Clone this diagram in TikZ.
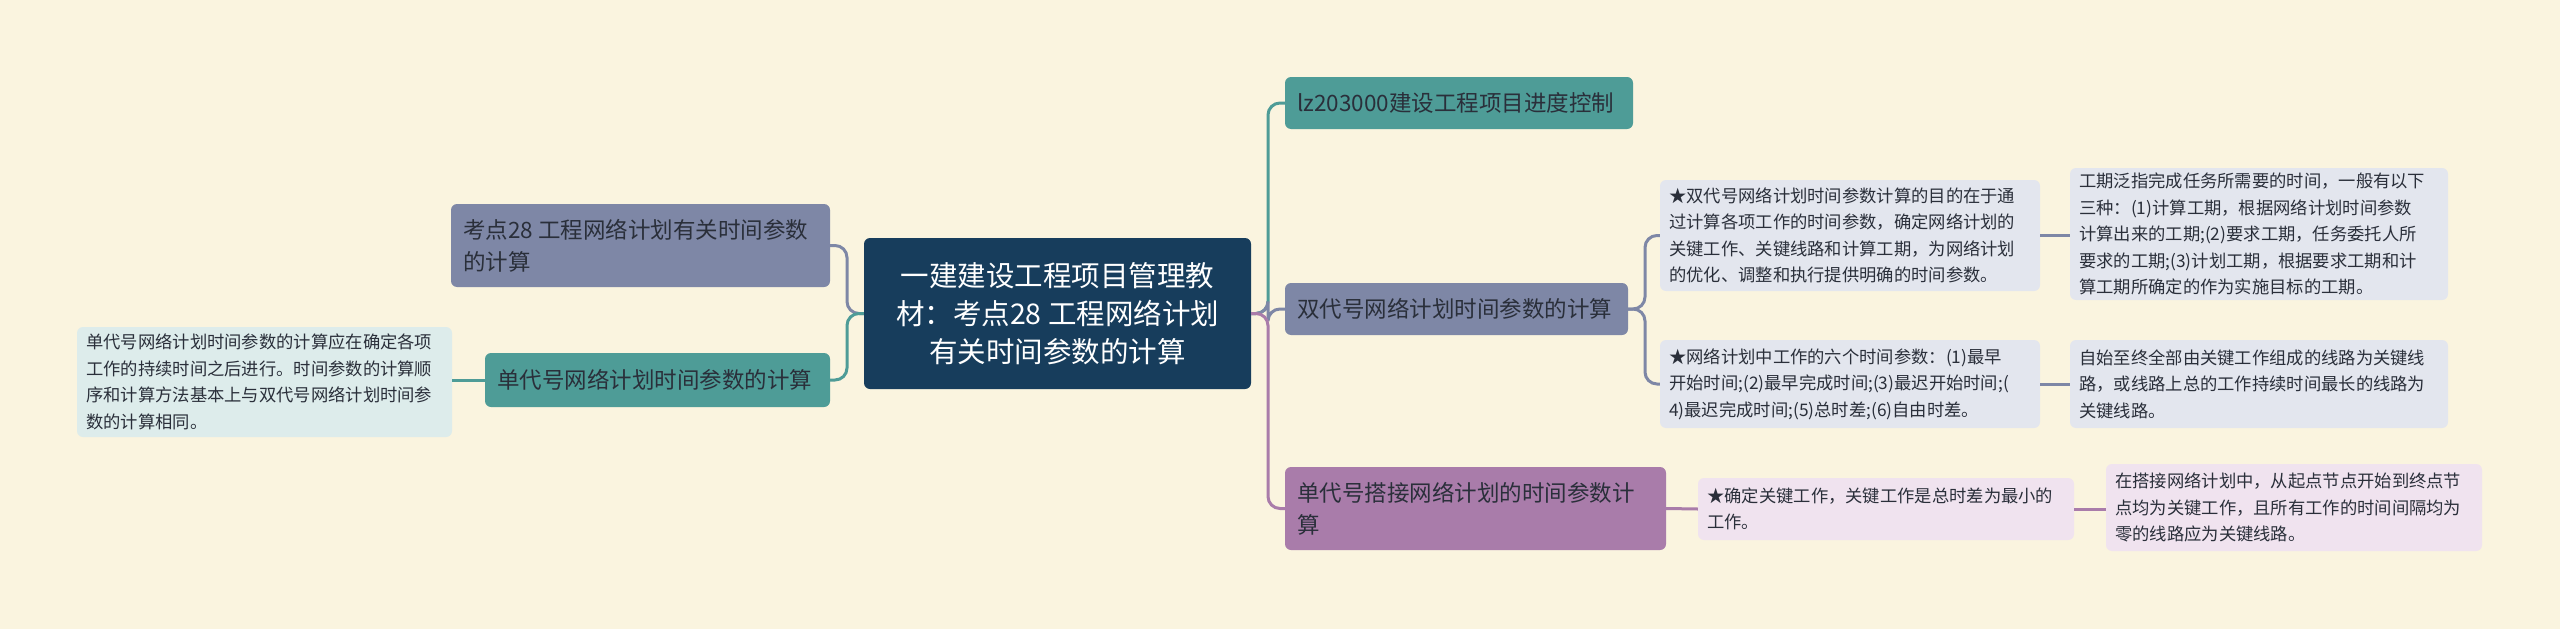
\documentclass[tikz,border=0pt]{standalone}
\usepackage{fontspec}
\setmainfont{Noto Sans CJK SC}
\begin{document}
\begin{tikzpicture}[x=1pt,y=-1pt,
  lk/.style={line width=3pt,rounded corners=12pt}]
\definecolor{bg}{HTML}{FAF4DF}
\definecolor{navy}{HTML}{173D5C}
\definecolor{teal}{HTML}{4E9C97}
\definecolor{gb}{HTML}{7E87A6}
\definecolor{pur}{HTML}{A97CAA}
\definecolor{lg}{HTML}{E3E6EE}
\definecolor{lp}{HTML}{F0E3EF}
\definecolor{lt}{HTML}{DDECEB}
\definecolor{tx}{HTML}{2A2F3A}
\fill[bg] (0,0) rectangle (2560,629);
\useasboundingbox (0,0) rectangle (2560,629);
% main
\fill[navy,rounded corners=6pt] (864,238) rectangle (1251,389);
\node[text=white,align=center,font=\fontsize{28.5}{38}\selectfont,minimum width=387,minimum height=151,inner sep=0] (c) at (1057.5,313.5) {一建建设工程项目管理教\\材：考点28 工程网络计划\\有关时间参数的计算};
\newcommand{\nd}[7]{% name x1 y1 x2 y2 color text
  \fill[#6,rounded corners=6pt] (#2,#3) rectangle (#4,#5);
  \node[inner sep=0,minimum width=#4-#2,minimum height=#5-#3] (#1) at ({(#2+#4)/2},{(#3+#5)/2}) {};
  \node[anchor=west,align=left,text=tx,font=\fontsize{22.5}{32}\selectfont,inner sep=0] at (#2+12,{(#3+#5)/2}) {#7};}
\nd{r1}{1285}{77}{1633}{129}{teal}{lz203000建设工程项目进度控制}
\nd{r2}{1285}{283}{1628}{335}{gb}{双代号网络计划时间参数的计算}
\nd{r3}{1285}{467}{1666}{550}{pur}{单代号搭接网络计划的时间参数计\\算}
\nd{l1}{451}{204}{830}{287}{gb}{考点28 工程网络计划有关时间参数\\的计算}
\nd{l2}{485}{353}{830}{407}{teal}{单代号网络计划时间参数的计算}
\newcommand{\lf}[7]{%
  \fill[#6,rounded corners=6pt] (#2,#3) rectangle (#4,#5);
  \node[inner sep=0,minimum width=#4-#2,minimum height=#5-#3] (#1) at ({(#2+#4)/2},{(#3+#5)/2}) {};
  \node[anchor=west,align=left,text=tx,font=\fontsize{17.3}{26.5}\selectfont,inner sep=0] at (#2+9,{(#3+#5)/2}) {#7};}
\lf{a1}{1660}{180}{2040}{291}{lg}{★双代号网络计划时间参数计算的目的在于通\\过计算各项工作的时间参数，确定网络计划的\\关键工作、关键线路和计算工期，为网络计划\\的优化、调整和执行提供明确的时间参数。}
\lf{b1}{2070}{168}{2448}{300}{lg}{工期泛指完成任务所需要的时间，一般有以下\\三种：(1)计算工期，根据网络计划时间参数\\计算出来的工期;(2)要求工期，任务委托人所\\要求的工期;(3)计划工期，根据要求工期和计\\算工期所确定的作为实施目标的工期。}
\lf{a2}{1660}{340}{2040}{428}{lg}{★网络计划中工作的六个时间参数：(1)最早\\开始时间;(2)最早完成时间;(3)最迟开始时间;(\\4)最迟完成时间;(5)总时差;(6)自由时差。}
\lf{b2}{2070}{340}{2448}{428}{lg}{自始至终全部由关键工作组成的线路为关键线\\路，或线路上总的工作持续时间最长的线路为\\关键线路。}
\lf{a3}{1698}{478}{2074}{540}{lp}{★确定关键工作，关键工作是总时差为最小的\\工作。}
\lf{b3}{2106}{464}{2482}{551}{lp}{在搭接网络计划中，从起点节点开始到终点节\\点均为关键工作，且所有工作的时间间隔均为\\零的线路应为关键线路。}
\lf{l3}{77}{327}{452}{437}{lt}{单代号网络计划时间参数的计算应在确定各项\\工作的持续时间之后进行。时间参数的计算顺\\序和计算方法基本上与双代号网络计划时间参\\数的计算相同。}
% links
\draw[lk,teal] (c.east) -- (1268,313.5) |- (r1.west);
\draw[lk,gb] (c.east) -- (1268,313.5) |- (r2.west);
\draw[lk,pur] (c.east) -- (1268,313.5) |- (r3.west);
\draw[lk,gb] (c.west) -- (847,313.5) |- (l1.east);
\draw[lk,teal] (c.west) -- (847,313.5) |- (l2.east);
\draw[lk,gb] (r2.east) -- (1645,309) |- (a1.west);
\draw[lk,gb] (r2.east) -- (1645,309) |- (a2.west);
\draw[lk,pur] (r3.east) -- (a3.west);
\draw[lk,gb] (a1.east) -- (b1.west |- a1.east);
\draw[lk,gb] (a2.east) -- (b2.west |- a2.east);
\draw[lk,pur] (a3.east) -- (b3.west |- a3.east);
\draw[lk,teal] (l2.west) -- (l3.east |- l2.west);
\end{tikzpicture}
\end{document}
